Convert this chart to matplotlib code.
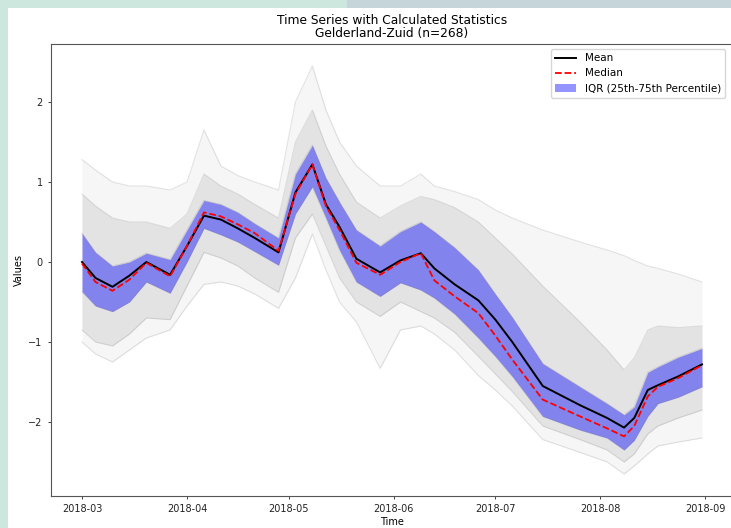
#!/usr/bin/env python3
"""Time series with calculated statistics (mean, median, IQR) for one region."""

import matplotlib
matplotlib.use("Agg")
import matplotlib.pyplot as plt
from matplotlib.patches import Rectangle
import pandas as pd

DATES = pd.to_datetime([
    "2018-03-01", "2018-03-05", "2018-03-10", "2018-03-15", "2018-03-20",
    "2018-03-27", "2018-04-01", "2018-04-06", "2018-04-11", "2018-04-16",
    "2018-04-21", "2018-04-28", "2018-05-03", "2018-05-08", "2018-05-12",
    "2018-05-16", "2018-05-21", "2018-05-28", "2018-06-03", "2018-06-09",
    "2018-06-13", "2018-06-19", "2018-06-26", "2018-07-01", "2018-07-06",
    "2018-07-15", "2018-07-26", "2018-08-03", "2018-08-08", "2018-08-11",
    "2018-08-15", "2018-08-18", "2018-08-24", "2018-08-31",
])

MEAN = [0.00, -0.20, -0.31, -0.17, 0.00, -0.16, 0.20, 0.58, 0.53, 0.42,
        0.30, 0.12, 0.87, 1.22, 0.72, 0.44, 0.04, -0.13, 0.02, 0.11,
        -0.08, -0.28, -0.48, -0.72, -1.00, -1.55, -1.79, -1.95, -2.07, -1.95,
        -1.60, -1.54, -1.43, -1.28]
MEDIAN = [-0.02, -0.25, -0.36, -0.22, -0.01, -0.18, 0.20, 0.62, 0.57, 0.47,
          0.36, 0.14, 0.85, 1.22, 0.70, 0.40, -0.01, -0.16, 0.00, 0.11,
          -0.23, -0.43, -0.64, -0.92, -1.22, -1.72, -1.93, -2.08, -2.18, -2.05,
          -1.68, -1.56, -1.45, -1.29]
Q25 = [-0.37, -0.55, -0.62, -0.50, -0.25, -0.39, 0.00, 0.42, 0.34, 0.25,
       0.13, -0.04, 0.60, 0.94, 0.55, 0.15, -0.25, -0.43, -0.26, -0.35,
       -0.45, -0.65, -0.95, -1.18, -1.43, -1.93, -2.10, -2.20, -2.35, -2.23,
       -1.93, -1.77, -1.69, -1.56]
Q75 = [0.36, 0.12, -0.05, 0.00, 0.11, 0.03, 0.40, 0.77, 0.72, 0.62,
       0.48, 0.30, 1.10, 1.46, 1.05, 0.75, 0.40, 0.20, 0.38, 0.50,
       0.38, 0.18, -0.10, -0.40, -0.69, -1.27, -1.56, -1.77, -1.91, -1.81,
       -1.38, -1.31, -1.19, -1.08]

# outline of the cloud of individual series (max, ~p90, ~p10, min)
GREY_MAX = [1.28, 1.15, 1.00, 0.95, 0.95, 0.90, 1.00, 1.65, 1.20, 1.08,
            1.00, 0.90, 2.00, 2.45, 1.90, 1.50, 1.20, 0.95, 0.95, 1.10,
            0.95, 0.88, 0.78, 0.65, 0.55, 0.40, 0.25, 0.15, 0.08, 0.02,
            -0.05, -0.08, -0.15, -0.25]
GREY_P90 = [0.85, 0.70, 0.55, 0.50, 0.50, 0.42, 0.60, 1.10, 0.95, 0.85,
            0.72, 0.55, 1.50, 1.90, 1.45, 1.10, 0.75, 0.55, 0.70, 0.82,
            0.78, 0.68, 0.50, 0.30, 0.10, -0.30, -0.75, -1.10, -1.35, -1.20,
            -0.85, -0.80, -0.82, -0.80]
GREY_P10 = [-0.85, -1.00, -1.05, -0.90, -0.70, -0.72, -0.30, 0.12, 0.05, -0.05,
            -0.20, -0.38, 0.30, 0.60, 0.20, -0.20, -0.50, -0.68, -0.50, -0.62,
            -0.70, -0.88, -1.18, -1.40, -1.62, -2.05, -2.22, -2.35, -2.50, -2.40,
            -2.15, -2.05, -1.95, -1.85]
GREY_MIN = [-1.00, -1.15, -1.25, -1.10, -0.95, -0.85, -0.55, -0.28, -0.25, -0.30,
            -0.40, -0.58, -0.20, 0.35, -0.10, -0.50, -0.75, -1.33, -0.85, -0.80,
            -0.90, -1.10, -1.42, -1.60, -1.80, -2.22, -2.38, -2.50, -2.65, -2.55,
            -2.40, -2.30, -2.25, -2.20]

REGION = "Gelderland-Zuid"
N_SERIES = 268


def main():
    fig = plt.figure(figsize=(7.31, 5.28), dpi=100)

    # screenshot frame around the figure
    fig.patches.append(Rectangle((0, 0), 8 / 731, 1, transform=fig.transFigure,
                                 facecolor="#cde7de", edgecolor="none", zorder=-10))
    fig.patches.append(Rectangle((0, 1 - 8 / 528), 347 / 731, 8 / 528, transform=fig.transFigure,
                                 facecolor="#cde7de", edgecolor="none", zorder=-10))
    fig.patches.append(Rectangle((347 / 731, 1 - 8 / 528), 384 / 731, 8 / 528,
                                 transform=fig.transFigure,
                                 facecolor="#c6d5da", edgecolor="none", zorder=-10))

    ax = fig.add_axes([51 / 731, 32 / 528, 682 / 731, 452 / 528])

    # individual series cloud
    ax.fill_between(DATES, GREY_MIN, GREY_MAX, color="grey", alpha=0.07, linewidth=0)
    ax.fill_between(DATES, GREY_P10, GREY_P90, color="grey", alpha=0.16, linewidth=0)
    for s in (GREY_MAX, GREY_P90, GREY_P10, GREY_MIN, Q25, Q75, MEAN, MEDIAN):
        ax.plot(DATES, s, color="grey", alpha=0.22, linewidth=0.8)

    ax.plot(DATES, MEAN, color="black", linewidth=1.4, label="Mean")
    ax.plot(DATES, MEDIAN, color="red", linestyle="--", linewidth=1.3, label="Median")
    ax.fill_between(DATES, Q25, Q75, color="blue", alpha=0.42, linewidth=0,
                    label="IQR (25th-75th Percentile)")

    ax.set_ylim(-2.925, 2.725)
    ax.set_yticks([-2, -1, 0, 1, 2])
    ax.set_yticklabels(["\u22122", "\u22121", "0", "1", "2"])
    ax.set_xticks(pd.to_datetime(["2018-03-01", "2018-04-01", "2018-05-01", "2018-06-01",
                                  "2018-07-01", "2018-08-01", "2018-09-01"]))
    ax.set_xticklabels(["2018-03", "2018-04", "2018-05", "2018-06",
                        "2018-07", "2018-08", "2018-09"])
    ax.tick_params(labelsize=7, length=2.5, width=0.6, colors="#222222")
    for sp in ax.spines.values():
        sp.set_linewidth(0.8)
        sp.set_color("#555555")
    ax.spines["right"].set_visible(False)   # lies just outside the cropped picture

    ax.set_xlabel("Time", fontsize=7, labelpad=2)
    ax.set_ylabel("Values", fontsize=7, labelpad=3)
    ax.set_title(f"Time Series with Calculated Statistics\n{REGION} (n={N_SERIES})",
                 fontsize=8.8, pad=5, linespacing=1.05)

    ax.legend(loc="upper right", bbox_to_anchor=(674 / 682, 447 / 452), borderaxespad=0,
              fontsize=7.5, framealpha=0.8, handlelength=2.0)

    fig.savefig("out.png", dpi=100)
    plt.close(fig)


if __name__ == "__main__":
    main()
